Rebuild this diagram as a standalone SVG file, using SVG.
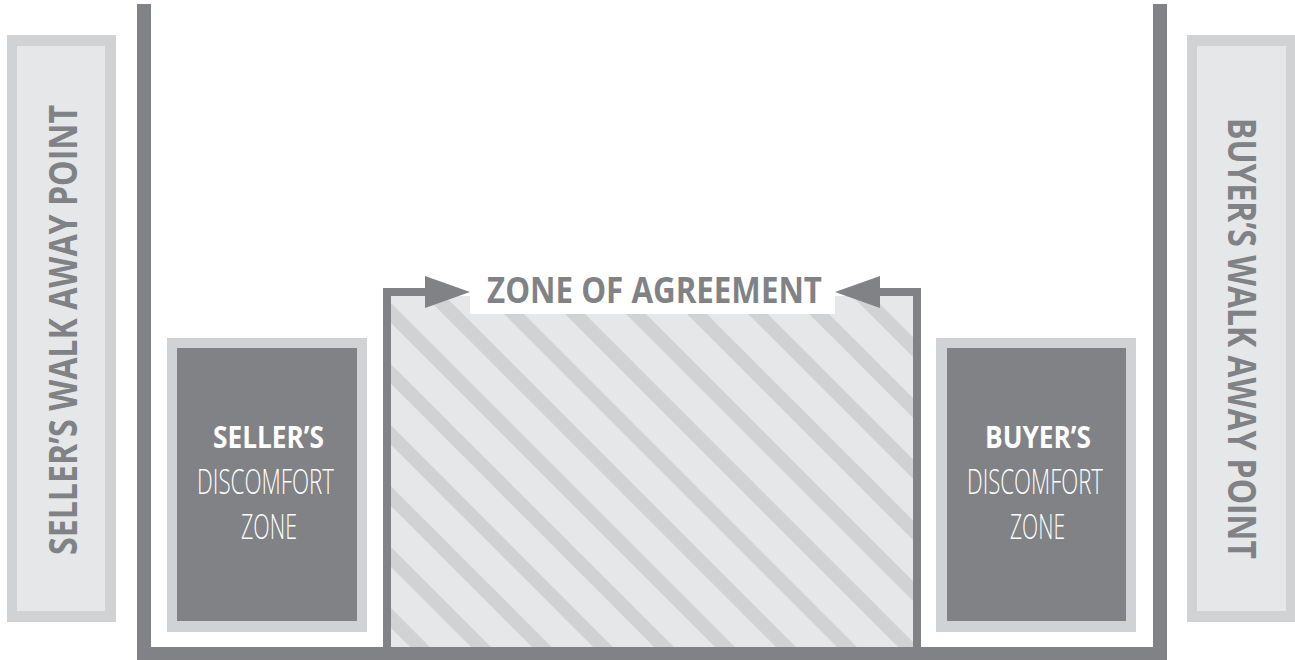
<svg xmlns="http://www.w3.org/2000/svg" width="1295" height="660" viewBox="0 0 1295 660">
  <defs>
    <pattern id="hatch" patternUnits="userSpaceOnUse" x="17" y="0" width="61" height="61">
      <rect x="0" y="0" width="61" height="61" fill="#e6e7e8"/>
      <path d="M-10,-10 L71,71 M51,-10 L71,10 M-10,51 L10,71" stroke="#d1d2d4" stroke-width="14" fill="none"/>
    </pattern>
  </defs>
  <style>
    .dark { fill: #808285; }
    .lightBorder { fill: #d1d2d4; }
    .lightFill { fill: #e6e7e8; }
    .bold { font-family: "Open Sans", "Liberation Sans", sans-serif; font-weight: 700; }
    .light { font-family: "Open Sans", "Liberation Sans", sans-serif; font-weight: 300; }
    .walk { font-size: 40px; fill: #808285; text-anchor: middle; }
    .boxTitle { font-size: 30px; fill: #ffffff; text-anchor: middle; }
    .boxText { font-size: 35px; fill: #ffffff; text-anchor: middle; }
    .label { font-size: 36px; fill: #808285; text-anchor: middle; }
    .outline { fill: none; stroke: #808285; stroke-width: 8; stroke-linejoin: miter; }
  </style>
  <rect x="0" y="0" width="1295" height="660" fill="#ffffff"/>

  <g id="seller-walk-away">
    <rect x="7" y="35" width="109" height="587" class="lightBorder"/>
    <rect x="17" y="46" width="88" height="565" class="lightFill"/>
    <text class="bold walk" transform="translate(77,330) rotate(-90)" textLength="450" lengthAdjust="spacingAndGlyphs">SELLER’S WALK AWAY POINT</text>
  </g>

  <g id="buyer-walk-away">
    <rect x="1187" y="35" width="109" height="587" class="lightBorder"/>
    <rect x="1197" y="46" width="89" height="565" class="lightFill"/>
    <text class="bold walk" transform="translate(1228,338.5) rotate(90)" textLength="441" lengthAdjust="spacingAndGlyphs">BUYER’S WALK AWAY POINT</text>
  </g>

  <g id="frame">
    <rect x="137" y="4" width="14" height="656" class="dark"/>
    <rect x="1153" y="4" width="14" height="656" class="dark"/>
    <rect x="137" y="647" width="1030" height="13" class="dark"/>
  </g>

  <g id="seller-discomfort-zone">
    <rect x="167" y="338" width="200" height="294" class="lightBorder"/>
    <rect x="177" y="348" width="180" height="273" class="dark"/>
    <text class="bold boxTitle" x="268.5" y="448" textLength="111" lengthAdjust="spacingAndGlyphs">SELLER’S</text>
    <text class="light boxText" x="265.5" y="494" textLength="137" lengthAdjust="spacingAndGlyphs">DISCOMFORT</text>
    <text class="light boxText" x="269" y="539" textLength="56" lengthAdjust="spacingAndGlyphs">ZONE</text>
  </g>

  <g id="buyer-discomfort-zone">
    <rect x="936" y="338" width="200" height="294" class="lightBorder"/>
    <rect x="947" y="348" width="179" height="273" class="dark"/>
    <text class="bold boxTitle" x="1038" y="448" textLength="106" lengthAdjust="spacingAndGlyphs">BUYER’S</text>
    <text class="light boxText" x="1035" y="494" textLength="136" lengthAdjust="spacingAndGlyphs">DISCOMFORT</text>
    <text class="light boxText" x="1037.5" y="539" textLength="55" lengthAdjust="spacingAndGlyphs">ZONE</text>
  </g>

  <g id="zone-of-agreement">
    <rect x="391" y="296" width="522" height="351" fill="url(#hatch)"/>
    <rect x="470" y="268" width="365" height="46" fill="#ffffff"/>
    <text class="bold label" x="654.5" y="303" textLength="335" lengthAdjust="spacingAndGlyphs">ZONE OF AGREEMENT</text>
  </g>

  <g id="connectors">
    <path class="outline" d="M426,292 H387 V647"/>
    <polygon class="dark" points="425,276 470,292 425,308"/>
    <path class="outline" d="M879,292 H917 V647"/>
    <polygon class="dark" points="880,276 835,292 880,308"/>
  </g>
</svg>
